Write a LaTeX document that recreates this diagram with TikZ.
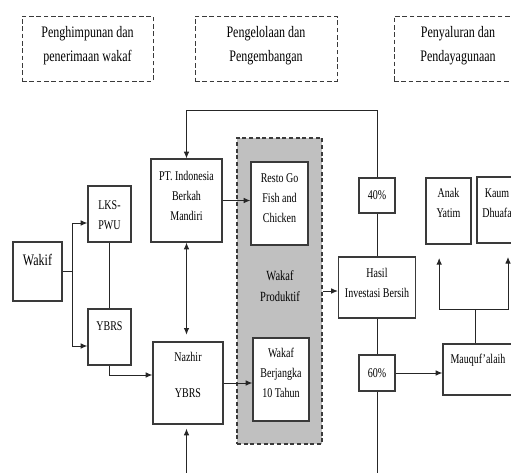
\documentclass[tikz,border=0pt]{standalone}
\usepackage{fontspec}
\setmainfont{Liberation Serif}[FakeStretch=0.75]
\usetikzlibrary{arrows.meta}

\definecolor{fillgray}{HTML}{C0C0C0}
\definecolor{linegray}{HTML}{3A3A3A}

\tikzset{
  hdbox/.style={draw=linegray, dash pattern=on 3.5pt off 2pt, line width=0.7pt, inner sep=0pt},
  prodbox/.style={draw=linegray, fill=fillgray, dash pattern=on 3pt off 2pt, line width=0.9pt, inner sep=0pt},
  box/.style={draw=linegray, fill=white, line width=0.9pt, inner sep=0pt},
  headtxt/.style={font=\fontsize{12}{18}\selectfont, align=center, inner sep=0.75pt},
  boxtxt/.style={font=\fontsize{10}{15}\selectfont, align=center, inner sep=0.75pt},
  prodtxt/.style={font=\fontsize{10.5}{15.75}\selectfont, align=center, inner sep=0.75pt},
  link/.style={draw=black!85, line width=0.75pt},
  sz/.style 2 args={minimum width=#1*0.75pt, minimum height=#2*0.75pt},
}

\begin{document}
\begin{tikzpicture}[x=0.75pt,y=0.75pt,yscale=-1,xscale=1,>={Latex[length=5pt,width=4.2pt]}]
\useasboundingbox (0,0) rectangle (511,472);
\clip (0,0) rectangle (511,472);

%Shape: header boxes
\node[hdbox, sz={131}{65}] (hd1) at (87.5,48.5) {};
\node[hdbox, sz={142}{65}] (hd2) at (266,48.5) {};
\node[hdbox, sz={128}{65}] (hd3) at (458,48.5) {};

%Shape: Wakaf Produktif block
\node[prodbox, sz={85}{306}] (prod) at (279.5,291) {};

%Shape: boxes
\node[box, sz={49}{59}] (wakif) at (37.5,271.5) {};
\node[box, sz={43}{56}] (lks) at (109.5,214) {};
\node[box, sz={43}{56}] (ybrs) at (109.5,337) {};
\node[box, sz={71}{83}] (pt) at (186.5,200.5) {};
\node[box, sz={70}{82}] (nazhir) at (188,383) {};
\node[box, sz={57}{83}] (resto) at (279.5,203.5) {};
\node[box, sz={56}{83}] (berjangka) at (281,379.5) {};
\node[box, sz={77}{61}] (hasil) at (377,287.5) {};
\node[box, sz={36}{35}] (p40) at (377,195.5) {};
\node[box, sz={36}{36}] (p60) at (377,373) {};
\node[box, sz={45}{66}] (yatim) at (448.5,211) {};
\node[box, sz={40}{66}] (kaum) at (497,210) {};
\node[box, sz={70}{51}] (mauquf) at (478,369.5) {};

\coordinate (top) at (0,110);
\coordinate (bot) at (0,490);

%Straight Lines
\draw[link] (wakif.east) -- ++(10,0) coordinate (split);
\draw[link,->] (split) |- ([yshift=6.75pt]lks.west);
\draw[link,->] (split) |- ([yshift=6.75pt]ybrs.west);
\draw[link] (lks.south) -- (ybrs.north);
\draw[link,->] (ybrs.south) |- ([yshift=-6pt]nazhir.west);
\draw[link,<->,shorten >=5pt] (pt.south) -- (pt.south |- nazhir.north);
\draw[link,->,shorten >=3pt] (pt.south |- bot) -- (pt.south |- nazhir.south);
\draw[link,->] (p40.north) |- (pt.north |- top) -- (pt.north);
\draw[link,->] (pt.east) -- (pt.east -| resto.west);
\draw[link,->] (nazhir.east) -- (nazhir.east -| berjangka.west);
\draw[link,->] (prod.east) -- (prod.east -| hasil.west);
\draw[link] (p40.south) -- (hasil.north);
\draw[link] (hasil.south) -- (p60.north);
\draw[link] (p60.south) -- (p60.south |- bot);
\draw[link,->] (p60.east) -- (p60.east -| mauquf.west);
\draw[link] ([xshift=-2.25pt]mauquf.north) -- ++(0,-34) coordinate (fork);
\draw[link,->,shorten >=10pt] (fork) -| ([xshift=-7pt]yatim.south);
\draw[link,->,shorten >=10pt] (fork) -| ([xshift=8.25pt]kaum.south);

% Text Node
\node[headtxt] (hd1t) at (87.5,46) {Penghimpunan dan\\penerimaan wakaf};
\node[headtxt] (hd2t) at (266,46) {Pengelolaan dan\\Pengembangan};
\node[headtxt] (hd3t) at (458,46) {Penyaluran dan\\Pendayagunaan};
% Text Node
\node[headtxt] (wakift) at (37.5,260) {Wakif};
\node[boxtxt] (lkst) at (109.5,215) {LKS-\\PWU};
\node[boxtxt] (ybrst) at (109.5,326) {YBRS};
\node[boxtxt] (ptt) at (186.5,196) {PT. Indonesia\\Berkah\\Mandiri};
\node[boxtxt] (nazhirt) at (188,375) {Nazhir\\[12pt]YBRS};
\node[boxtxt] (restot) at (279.5,198) {Resto Go\\Fish and\\Chicken};
\node[prodtxt] (prodt) at (280,286) {Wakaf\\Produktif};
\node[boxtxt] (berjangkat) at (281,373) {Wakaf\\Berjangka\\10 Tahun};
\node[boxtxt] (hasilt) at (377,283) {Hasil\\Investasi Bersih};
\node[boxtxt] (p40t) at (377,195.5) {40\%};
\node[boxtxt] (p60t) at (377,373) {60\%};
\node[boxtxt] (yatimt) at (448.5,203) {Anak\\Yatim};
\node[boxtxt] (kaumt) at (497,203) {Kaum\\Dhuafa};
\node[boxtxt] (mauquft) at (478,360) {Mauquf'alaih};

\end{tikzpicture}
\end{document}
